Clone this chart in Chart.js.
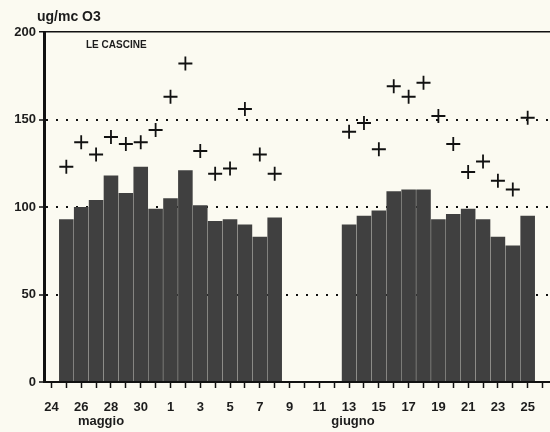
<!DOCTYPE html>
<html>
<head>
<meta charset="utf-8">
<script src="https://cdn.jsdelivr.net/npm/chart.js@4.4.0/dist/chart.umd.min.js"></script>
<style>
html,body{margin:0;padding:0;background:#fbfaf1;}
canvas{display:block;}
</style>
</head>
<body>
<canvas id="c" width="550" height="432"></canvas>
<script>
// Days from 24 May to 26 June
const days = ['24','25','26','27','28','29','30','31',
  '1','2','3','4','5','6','7','8','9','10','11','12','13','14','15','16','17','18','19','20','21','22','23','24','25','26'];
// Daily mean O3 (bars)
const meanO3 = [null,93,100,104,118,108,123,99,
  105,121,101,92,93,90,83,94,null,null,null,null,90,95,98,109,110,110,93,96,99,93,83,78,95,null];
// Daily max O3 (crosses)
const maxO3 = [null,123,137,130,140,136,137,144,
  163,182,132,119,122,156,130,119,null,null,null,null,143,148,133,169,163,171,152,136,120,126,115,110,151,null];
const yTicks = [0,50,100,150,200];
const unitLabel = 'ug/mc O3';
const stationLabel = 'LE CASCINE';
const monthLabels = ['maggio','giugno'];

const FONT = '"Liberation Sans", Arial, sans-serif';
const INK = '#1c1c1c';

const decor = {
  id: 'decor',
  beforeDraw(chart) {
    const c = chart.ctx;
    c.save();
    c.fillStyle = '#fbfaf1';
    c.fillRect(0, 0, chart.width, chart.height);
    c.restore();
  },
  afterDraw(chart) {
    const c = chart.ctx;
    c.save();
    c.fillStyle = INK;
    c.textBaseline = 'alphabetic';
    c.textAlign = 'left';
    c.font = 'bold 14px ' + FONT;
    c.fillText(unitLabel, 37, 21);
    c.font = 'bold 10px ' + FONT;
    c.fillText(stationLabel, 86, 48);
    c.textAlign = 'center';
    c.font = 'bold 13px ' + FONT;
    c.fillText(monthLabels[0], 101, 425);
    c.fillText(monthLabels[1], 353, 425);
    c.restore();
  }
};

new Chart(document.getElementById('c'), {
  data: {
    labels: days,
    datasets: [
      {
        type: 'line',
        data: maxO3,
        showLine: false,
        pointStyle: 'cross',
        pointRadius: 7,
        pointBorderWidth: 1.8,
        borderColor: '#111',
        backgroundColor: '#111',
        clip: false,
        order: 0
      },
      {
        type: 'bar',
        data: meanO3,
        backgroundColor: '#404040',
        borderWidth: 0,
        barPercentage: 0.98,
        categoryPercentage: 1,
        order: 1
      }
    ]
  },
  options: {
    responsive: false,
    animation: false,
    layout: { autoPadding: false, padding: { left: 0, top: 32, right: -6, bottom: 0 } },
    plugins: { legend: { display: false }, tooltip: { enabled: false }, title: { display: false } },
    scales: {
      x: {
        type: 'category',
        offset: true,
        afterFit(s) { s.height = 50; s.paddingLeft = 0; s.paddingRight = 0; },
        grid: {
          display: true, drawOnChartArea: false, drawTicks: true,
          offset: false, tickLength: 6, tickColor: '#111', tickWidth: 1.5
        },
        border: { display: true, color: '#111', width: 2 },
        ticks: {
          autoSkip: false, maxRotation: 0, padding: 12,
          color: INK, font: { family: FONT, size: 13, weight: 'bold' },
          callback: (v, i) => (i % 2 === 0 ? days[i] : '')
        }
      },
      y: {
        min: 0, max: 200,
        afterFit(s) { s.width = 44; s.paddingTop = 0; s.paddingBottom = 0; },
        afterBuildTicks(s) { s.ticks = yTicks.map(v => ({ value: v })); },
        grid: {
          drawTicks: true, tickLength: 5, tickColor: '#111', tickWidth: 1.5,
          color: (ctx) => (ctx.tick && ctx.tick.value === 0 ? 'rgba(0,0,0,0)' : '#111'),
          lineWidth: (ctx) => (ctx.tick && ctx.tick.value === 200 ? 1.5 : 2)
        },
        border: {
          display: true, color: '#111', width: 3,
          dash: (ctx) => (ctx.type === 'tick' && ctx.tick && ctx.tick.value !== 200 ? [2, 8] : [])
        },
        ticks: {
          padding: 3, color: INK,
          font: { family: FONT, size: 13, weight: 'bold' }
        }
      }
    }
  },
  plugins: [decor]
});
</script>
</body>
</html>
